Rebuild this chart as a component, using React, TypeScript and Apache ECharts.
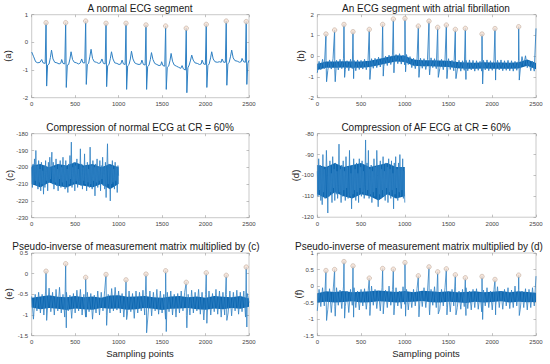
import React, { useEffect, useRef } from 'react';
import * as echarts from 'echarts';

// ---------- Data ----------
const titles = [
  'A normal ECG segment',
  'An ECG segment with atrial fibrillation',
  'Compression of normal ECG at CR = 60%',
  'Compression of AF ECG at CR = 60%',
  'Pseudo-inverse of measurement matrix multiplied by (c)',
  'Pseudo-inverse of measurement matrix multiplied by (d)',
];
const panelLabels = ['(a)', '(b)', '(c)', '(d)', '(e)', '(f)'];
const xLabel = 'Sampling points';

// y-axis ranges [min, max, interval]
const yRanges: [number, number, number][] = [
  [-2, 1, 1],
  [-2, 2, 1],
  [-230, -180, 10],
  [-120, -80, 10],
  [-1.5, 0.5, 0.5],
  [-1.5, 1, 0.5],
];
const xRange: [number, number, number] = [0, 2500, 500];

// (a) normal ECG, [sample, value]
const ecgA: [number, number][] = [
  [0, -0.35], [20, -0.5], [45, -0.7], [70, -0.74], [95, -0.72], [115, -0.62], [130, -0.74], [155, -0.76],
  [165, 0.71], [172, -1.58], [183, -0.82], [200, -0.78], [215, -0.55], [228, -0.28], [245, -0.6], [265, -0.72], [290, -0.74], [315, -0.78], [335, -0.75],
  [345, -0.62], [360, -0.76], [381, -0.78], [391, 0.71], [398, -1.63], [410, -0.82], [425, -0.8], [440, -0.6], [453, -0.34], [470, -0.62], [490, -0.72], [515, -0.74], [540, -0.78], [560, -0.74],
  [575, -0.6], [590, -0.74], [611, -0.74], [621, 0.77], [628, -1.52], [640, -0.8], [655, -0.76], [670, -0.5], [683, -0.25], [700, -0.58], [720, -0.7], [745, -0.72], [770, -0.76], [790, -0.74],
  [808, -0.6], [825, -0.76], [845, -0.78], [855, 0.69], [862, -1.6], [874, -0.84], [890, -0.8], [905, -0.58], [918, -0.34], [935, -0.6], [955, -0.74], [980, -0.76], [1005, -0.8], [1025, -0.78],
  [1040, -0.64], [1055, -0.78], [1075, -0.8], [1085, 0.69], [1092, -1.7], [1104, -0.85], [1120, -0.8], [1135, -0.6], [1148, -0.32], [1165, -0.6], [1185, -0.74], [1210, -0.78], [1235, -0.8], [1255, -0.78],
  [1268, -0.64], [1285, -0.8], [1305, -0.82], [1315, 0.63], [1322, -1.7], [1334, -0.88], [1350, -0.82], [1365, -0.62], [1378, -0.37], [1395, -0.62], [1415, -0.76], [1440, -0.8], [1465, -0.84], [1485, -0.82],
  [1495, -0.7], [1510, -0.84], [1531, -0.86], [1541, 0.59], [1548, -1.7], [1560, -0.9], [1576, -0.86], [1591, -0.66], [1604, -0.4], [1620, -0.68], [1640, -0.82], [1665, -0.86], [1690, -0.9], [1715, -0.94],
  [1730, -0.84], [1745, -0.96], [1768, -1.0], [1778, 0.51], [1785, -1.82], [1797, -0.92], [1812, -0.82], [1828, -0.64], [1841, -0.46], [1858, -0.64], [1878, -0.74], [1905, -0.76], [1930, -0.8], [1950, -0.78],
  [1960, -0.64], [1978, -0.78], [1998, -0.8], [2008, 0.65], [2015, -1.63], [2027, -0.84], [2042, -0.78], [2058, -0.56], [2071, -0.34], [2088, -0.6], [2108, -0.7], [2135, -0.72], [2160, -0.7], [2180, -0.72],
  [2190, -0.6], [2208, -0.72], [2228, -0.72], [2238, 0.77], [2245, -1.55], [2257, -0.78], [2272, -0.72], [2288, -0.5], [2301, -0.28], [2318, -0.56], [2338, -0.66], [2365, -0.68], [2390, -0.72], [2410, -0.7],
  [2420, -0.58], [2438, -0.7], [2458, -0.72], [2468, 0.75], [2475, -1.52], [2487, -0.76], [2500, -0.65],
];
const aR = [165, 391, 621, 855, 1085, 1315, 1541, 1778, 2008, 2238, 2468];
const aPeak = [0.71, 0.71, 0.77, 0.69, 0.69, 0.63, 0.59, 0.51, 0.65, 0.77, 0.75];

// x positions of the dense-core envelopes
const coreX2500 = [0, 100, 200, 300, 400, 500, 600, 700, 800, 900, 1000, 1100, 1200, 1300, 1400, 1500, 1600, 1700, 1800, 1900, 2000, 2100, 2200, 2300, 2400, 2500];
const coreX1000 = [0, 100, 200, 300, 400, 500, 600, 700, 800, 900, 1000];

// (b) AF ECG: baseline samples every 20 points, plus R spikes
const bStep = 20;
const bNoise = [
  -0.8, -0.25, -0.65, -0.15, -0.6, -0.2, -0.68, -0.18, -0.62, -0.12,
  -0.65, -0.2, -0.66, -0.15, -0.6, -0.1, -0.64, -0.22, -0.7, -0.15,
  -0.6, -0.2, -0.7, -0.18, -0.64, -0.2, -0.62, -0.15, -0.65, -0.2,
  -0.6, -0.12, -0.58, -0.1, -0.55, -0.05, -0.52, -0.08, -0.5, 0.0,
  -0.45, 0.05, -0.4, 0.1, -0.38, 0.08, -0.36, 0.12, -0.38, 0.05,
  -0.42, 0.08, -0.4, -0.02, -0.55, -0.1, -0.6, -0.15, -0.62, -0.1,
  -0.58, -0.12, -0.64, -0.15, -0.6, -0.08, -0.55, -0.12, -0.6, -0.1,
  -0.6, -0.15, -0.65, -0.18, -0.62, -0.12, -0.64, -0.2, -0.7, -0.2,
  -0.66, -0.2, -0.72, -0.22, -0.68, -0.2, -0.7, -0.18, -0.66, -0.2,
  -0.72, -0.22, -0.68, -0.25, -0.72, -0.2, -0.66, -0.18, -0.7, -0.22,
  -0.68, -0.2, -0.7, -0.2, -0.66, -0.18, -0.7, -0.22, -0.68, -0.2,
  -0.7, -0.22, -0.72, -0.25, -0.68, -0.2, -0.62, -0.02, -0.45, 0.02,
  -0.55, -0.22, -0.7, -0.25, -0.72, 1.34,
];
const bLo = [-0.66, -0.56, -0.56, -0.54, -0.56, -0.56, -0.52, -0.44, -0.34, -0.26, -0.28, -0.46, -0.49, -0.49, -0.51, -0.52, -0.58, -0.6, -0.61, -0.59, -0.6, -0.6, -0.61, -0.59, -0.46, -0.63];
const bHi = [-0.36, -0.26, -0.26, -0.24, -0.26, -0.26, -0.22, -0.14, -0.04, 0.04, 0.02, -0.16, -0.19, -0.19, -0.21, -0.22, -0.28, -0.3, -0.31, -0.29, -0.3, -0.3, -0.31, -0.29, -0.16, -0.33];
const bR = [99, 198, 305, 408, 594, 747, 869, 1002, 1155, 1277, 1376, 1475, 1578, 1692, 1883, 2031, 2302];
const bPeak = [1.07, 1.26, 1.53, 1.18, 1.29, 1.53, 1.79, 1.82, 1.45, 1.69, 1.39, 1.5, 1.29, 1.34, 1.07, 1.33, 1.42];
const bTrough = [-1.23, -1.23, -1.02, -1.08, -1.12, -0.96, -0.8, -0.75, -1.02, -0.9, -1.02, -1.08, -1.08, -1.12, -1.34, -1.15, -1.15];

// (c) compressed normal ECG, every 8 samples (0..1000)
const cStep = 8;
const cValues = [
  -200, -212, -198, -210, -195, -208, -190, -211, -199, -213,
  -196, -209, -201, -214, -197, -210, -202, -216, -199, -212,
  -196, -208, -200, -214, -197, -209, -194, -207, -199, -191,
  -210, -197, -213, -200, -209, -195, -211, -201, -214, -198,
  -207, -196, -212, -200, -209, -194, -211, -199, -213, -196,
  -208, -201, -215, -198, -210, -193, -207, -185, -212, -200,
  -209, -197, -214, -199, -208, -195, -212, -201, -210, -208,
  -189, -211, -198, -213, -200, -208, -192, -210, -199, -214,
  -197, -209, -201, -212, -188, -210, -199, -213, -196, -208,
  -200, -217, -198, -209, -195, -212, -200, -208, -196, -214,
  -199, -207, -194, -211, -200, -213, -197, -218, -201, -186,
  -210, -198, -200, -220, -199, -210, -196, -209, -201, -213,
  -197, -208, -200, -215, -199, -205,
];
const cLo = [-210, -212, -209, -211, -212, -210, -211, -212, -210, -213, -210];
const cHi = [-199, -198, -200, -198, -199, -197, -199, -198, -200, -198, -200];

// (d) compressed AF ECG, every 8 samples (0..1000)
const dStep = 8;
const dValues = [
  -98, -110, -92, -107, -95, -112, -96, -114, -90, -108,
  -97, -111, -106, -88, -100, -118, -96, -110, -93, -108,
  -99, -113, -91, -106, -97, -112, -94, -109, -98, -111,
  -105, -85, -108, -97, -113, -95, -110, -93, -107, -98,
  -112, -91, -106, -96, -111, -108, -88, -110, -99, -116,
  -95, -109, -92, -107, -97, -112, -94, -108, -99, -113,
  -92, -106, -96, -110, -93, -108, -98, -111, -105, -83,
  -109, -94, -107, -88, -111, -97, -109, -95, -113, -98,
  -108, -92, -110, -96, -106, -88, -100, -115, -95, -109,
  -93, -111, -97, -107, -91, -110, -98, -112, -94, -106,
  -96, -113, -92, -108, -97, -111, -93, -107, -99, -116,
  -94, -109, -91, -106, -97, -112, -94, -108, -90, -110,
  -96, -107, -92, -111, -98, -113,
];
const dLo = [-109, -111, -108, -110, -111, -109, -110, -112, -109, -111, -110];
const dHi = [-95, -96, -94, -96, -95, -94, -96, -95, -94, -96, -96];

// (e) reconstruction of (c), baseline every 20 samples, plus R spikes
const eStep = 20;
const eNoise = [
  -0.55, -1.1, -0.5, -0.9, -0.45, -0.95, -0.5, -1.0, -0.42, -0.88,
  -0.35, -0.92, -0.45, -1.0, -0.38, -0.9, -0.33, -0.95, -0.5, -1.05,
  -0.45, -0.9, -0.52, -1.08, -0.48, -0.95, -0.4, -0.9, -0.38, -1.0,
  -0.5, -1.05, -0.45, -0.92, -0.48, -1.1, -0.52, -0.95, -0.42, -1.0,
  -0.45, -0.9, -0.4, -1.02, -0.5, -0.95, -0.36, -0.9, -0.33, -0.88,
  -0.42, -0.95, -0.48, -1.05, -0.52, -1.0, -0.42, -0.92, -0.48, -1.08,
  -0.42, -0.95, -0.45, -0.9, -0.4, -1.0, -0.5, -0.95, -0.42, -1.02,
  -0.45, -0.9, -0.38, -0.98, -0.42, -0.95, -0.5, -1.1, -0.45, -0.92,
  -0.42, -1.0, -0.5, -1.05, -0.48, -0.95, -0.42, -0.9, -0.45, -1.02,
  -0.5, -1.0, -0.4, -0.95, -0.45, -0.9, -0.38, -0.98, -0.45, -1.12,
  -0.5, -0.95, -0.42, -1.0, -0.48, -0.92, -0.38, -0.98, -0.42, -1.05,
  -0.45, -1.0, -0.5, -0.95, -0.42, -1.02, -0.45, -0.9, -0.4, -0.98,
  -0.45, -0.92, -0.42, -1.05, -0.48, -0.7,
];
const eLo = [-0.82, -0.86, -0.83, -0.85, -0.88, -0.84, -0.86, -0.87, -0.83, -0.85, -0.84, -0.87, -0.86, -0.83, -0.85, -0.88, -0.85, -0.84, -0.83, -0.86, -0.87, -0.84, -0.86, -0.83, -0.85, -0.8];
const eHi = [-0.58, -0.55, -0.52, -0.56, -0.57, -0.54, -0.57, -0.55, -0.58, -0.53, -0.52, -0.56, -0.55, -0.54, -0.57, -0.58, -0.55, -0.54, -0.57, -0.55, -0.58, -0.54, -0.56, -0.57, -0.54, -0.6];
const eR = aR;
const ePeak = [0.06, 0.24, -0.09, -0.02, -0.15, -0.01, 0.07, -0.21, 0.02, -0.04, 0.16];
const eTrough = [-1.13, -1.31, -1.05, -1.25, -1.11, -1.43, -1.4, -1.31, -1.2, -1.13, -1.29];

// (f) reconstruction of (d)
const fStep = 20;
const fNoise = [
  -0.75, -0.1, -0.62, -0.05, -0.6, -0.15, -0.7, -0.08, -0.8, -0.18,
  -0.62, -0.05, -0.58, -0.12, -0.68, 0.0, -0.62, -0.15, -0.8, -0.1,
  -0.58, -0.05, -0.65, -0.15, -0.72, -0.1, -0.6, -0.08, -0.7, -0.2,
  -0.62, 0.0, -0.58, -0.1, -0.68, -0.15, -0.75, -0.05, -0.6, -0.12,
  -0.65, 0.0, -0.58, -0.1, -0.7, -0.05, -0.6, -0.15, -0.68, -0.02,
  -0.55, -0.1, -0.72, -0.18, -0.65, -0.1, -0.6, -0.08, -0.72, -0.15,
  -0.62, -0.05, -0.65, -0.15, -0.7, -0.1, -0.58, -0.02, -0.65, -0.12,
  -0.7, -0.1, -0.6, -0.05, -0.65, -0.18, -0.78, -0.1, -0.6, 0.0,
  -0.65, -0.15, -0.7, -0.1, -0.62, -0.05, -0.68, -0.15, -0.72, -0.1,
  -0.65, -0.08, -0.7, -0.2, -0.78, -0.12, -0.6, -0.05, -0.65, -0.15,
  -0.72, -0.1, -0.6, -0.02, -0.65, -0.15, -0.7, -0.1, -0.6, -0.05,
  -0.68, -0.12, -0.65, 0.0, -0.6, -0.1, -0.7, -0.15, -0.65, -0.08,
  -0.72, -0.1, -0.65, -0.05, -0.6, 0.3,
];
const fLo = [-0.5, -0.47, -0.5, -0.48, -0.46, -0.5, -0.49, -0.46, -0.47, -0.5, -0.48, -0.47, -0.45, -0.49, -0.5, -0.47, -0.49, -0.51, -0.47, -0.5, -0.48, -0.46, -0.5, -0.47, -0.49, -0.48];
const fHi = [-0.22, -0.16, -0.18, -0.15, -0.19, -0.17, -0.16, -0.13, -0.16, -0.18, -0.15, -0.19, -0.14, -0.16, -0.18, -0.16, -0.19, -0.18, -0.16, -0.19, -0.17, -0.15, -0.19, -0.16, -0.18, -0.2];
const fR = bR;
const fPeak = [0.47, 0.5, 0.74, 0.61, 0.24, 0.53, 0.51, 0.71, 0.31, 0.58, 0.43, 0.52, 0.34, 0.25, 0.29, 0.2, 0.33];
const fTrough = [-1.04, -0.91, -0.97, -0.94, -0.89, -0.84, -0.87, -0.91, -0.93, -0.87, -0.84, -0.87, -0.87, -0.89, -1.01, -0.87, -0.89];

// ---------- Helpers ----------
function sampled(values: number[], step: number): [number, number][] {
  return values.map((v, i) => [i * step, v] as [number, number]);
}
function withSpikes(values: number[], step: number, rs: number[], peaks: number[], troughs: number[]): [number, number][] {
  const pts = sampled(values, step);
  rs.forEach((r, k) => {
    pts.push([r, peaks[k]]);
    pts.push([r + 7, troughs[k]]);
  });
  pts.sort((p, q) => p[0] - q[0]);
  return pts;
}

// grid boxes in pixels: [left, top, width, height]
const boxes: [number, number, number, number][] = [
  [31.7, 14.7, 217.3, 83],
  [317.3, 14.7, 218.7, 83],
  [31.7, 133.7, 217.3, 84],
  [317.3, 133.7, 218.7, 83.5],
  [31.7, 253, 217.3, 82.7],
  [317.3, 253, 218.7, 82.7],
];
const titlePos: [number, number][] = [
  [140, 8.5], [426, 8.5], [140, 127.5], [426, 127.5], [136, 246], [419, 246],
];
const ylabelPos: [number, number][] = [
  [7.5, 56], [300.5, 56], [9.5, 175.5], [295, 175.5], [8.5, 294], [298, 294],
];
const xlabelPos: [number, number][] = [[140, 353], [426, 353]];

const LINE = '#2f80c3';
const CORE = '#0e67b0';
const FONT = '"Liberation Sans", Arial, Helvetica, sans-serif';

export default function App() {
  const ref = useRef<HTMLDivElement>(null);
  useEffect(() => {
    if (!ref.current) return;
    const chart = echarts.init(ref.current, undefined, { renderer: 'svg', width: 550, height: 364 });

    const grid = boxes.map(([l, t, w, h]) => ({
      left: l, top: t, width: w, height: h,
      show: true, borderColor: '#b3b3b3', borderWidth: 0.7, backgroundColor: 'transparent',
      containLabel: false,
    }));

    const tick = { show: true, inside: true, length: 2.5, lineStyle: { color: '#999', width: 0.6 } };
    const label = {
      show: true, fontSize: 6, color: '#444', margin: 3.5, fontFamily: FONT,
      showMinLabel: true, showMaxLabel: true, formatter: (v: number) => String(v),
    };
    const xAxis: any[] = [];
    const yAxis: any[] = [];
    for (let i = 0; i < 6; i++) {
      xAxis.push({
        type: 'value', gridIndex: i, position: 'bottom', min: xRange[0], max: xRange[1], interval: xRange[2],
        axisLine: { show: false, onZero: false }, splitLine: { show: false }, axisTick: tick, axisLabel: label,
      });
      yAxis.push({
        type: 'value', gridIndex: i, position: 'left', min: yRanges[i][0], max: yRanges[i][1], interval: yRanges[i][2],
        axisLine: { show: false, onZero: false }, splitLine: { show: false }, axisTick: tick, axisLabel: label,
      });
    }
    for (let i = 0; i < 6; i++) {
      xAxis.push({
        type: 'value', gridIndex: i, position: 'top', min: xRange[0], max: xRange[1], interval: xRange[2],
        axisLine: { show: false, onZero: false }, splitLine: { show: false }, axisLabel: { show: false }, axisTick: tick,
      });
      yAxis.push({
        type: 'value', gridIndex: i, position: 'right', min: yRanges[i][0], max: yRanges[i][1], interval: yRanges[i][2],
        axisLine: { show: false, onZero: false }, splitLine: { show: false }, axisLabel: { show: false }, axisTick: tick,
      });
    }

    const lineSeries = (i: number, data: [number, number][], width = 0.8) => ({
      type: 'line', xAxisIndex: i, yAxisIndex: i, data, showSymbol: false, symbol: 'none',
      lineStyle: { color: LINE, width }, z: 3, silent: true,
    });
    const coreBand = (i: number, xs: number[], lo: number[], hi: number[]) => ({
      type: 'custom', xAxisIndex: i, yAxisIndex: i, coordinateSystem: 'cartesian2d',
      data: [[xs[0], lo[0]]], silent: true, z: 2, clip: true,
      renderItem: (_p: any, api: any) => {
        const top = xs.map((x, k) => api.coord([x, hi[k]]));
        const bottom = xs.map((x, k) => api.coord([x, lo[k]])).reverse();
        return { type: 'polygon', shape: { points: top.concat(bottom) }, style: { fill: CORE } };
      },
    });
    const circles = (i: number, rs: number[], peaks: number[]) => ({
      type: 'scatter', xAxisIndex: i, yAxisIndex: i,
      data: rs.map((r, k) => [r, peaks[k]]),
      symbol: 'circle', symbolSize: 4.5,
      itemStyle: { color: '#f5e0d2', borderColor: '#b09c8e', borderWidth: 0.6 },
      z: 5, silent: true,
    });

    const series: any[] = [
      lineSeries(0, ecgA, 1),
      circles(0, aR, aPeak),
      coreBand(1, coreX2500, bLo, bHi),
      lineSeries(1, withSpikes(bNoise, bStep, bR, bPeak, bTrough), 0.9),
      circles(1, bR, bPeak),
      coreBand(2, coreX1000, cLo, cHi),
      lineSeries(2, sampled(cValues, cStep), 0.8),
      coreBand(3, coreX1000, dLo, dHi),
      lineSeries(3, sampled(dValues, dStep), 0.8),
      coreBand(4, coreX2500, eLo, eHi),
      lineSeries(4, withSpikes(eNoise, eStep, eR, ePeak, eTrough), 0.8),
      circles(4, eR, ePeak),
      coreBand(5, coreX2500, fLo, fHi),
      lineSeries(5, withSpikes(fNoise, fStep, fR, fPeak, fTrough), 0.8),
      circles(5, fR, fPeak),
    ];

    const graphic: any[] = [];
    titles.forEach((t, i) => {
      graphic.push({
        type: 'text', x: titlePos[i][0], y: titlePos[i][1], silent: true,
        style: { text: t, font: `10px ${FONT}`, fill: '#1a1a1a', textAlign: 'center', textVerticalAlign: 'middle' },
      });
    });
    panelLabels.forEach((t, i) => {
      graphic.push({
        type: 'text', x: ylabelPos[i][0], y: ylabelPos[i][1], rotation: Math.PI / 2, silent: true,
        style: { text: t, font: `9.5px ${FONT}`, fill: '#262626', textAlign: 'center', textVerticalAlign: 'middle' },
      });
    });
    xlabelPos.forEach(([x, y]) => {
      graphic.push({
        type: 'text', x, y, silent: true,
        style: { text: xLabel, font: `9.5px ${FONT}`, fill: '#262626', textAlign: 'center', textVerticalAlign: 'middle' },
      });
    });

    chart.setOption({
      animation: false,
      backgroundColor: '#ffffff',
      grid, xAxis, yAxis, series, graphic,
    });
    return () => chart.dispose();
  }, []);
  return <div ref={ref} style={{ position: 'fixed', left: 0, top: 0, width: 550, height: 364 }} />;
}
